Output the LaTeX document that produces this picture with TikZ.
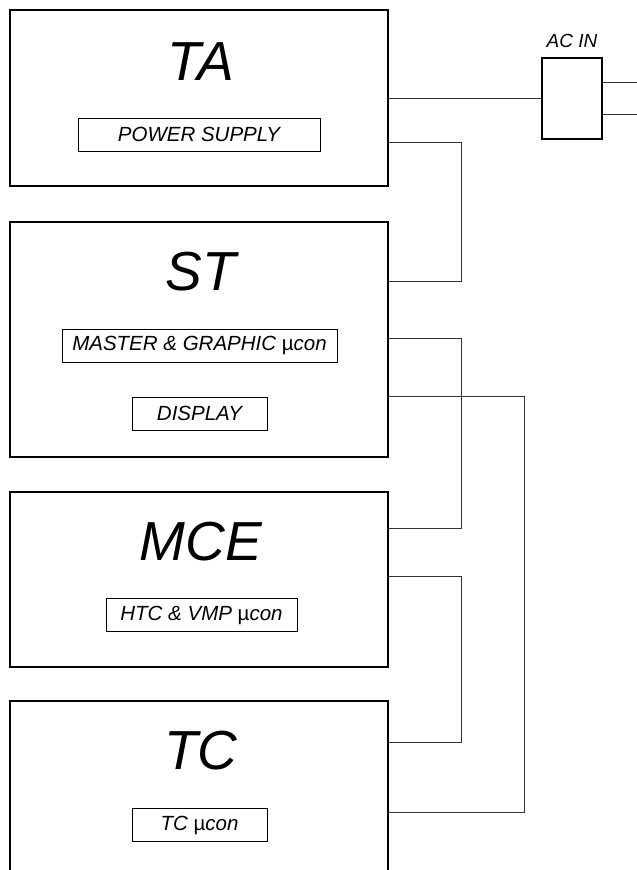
\documentclass[tikz,border=0pt]{standalone}
\usepackage{fontspec}
\setmainfont{Liberation Sans}
\newcommand\titlefont{\fontsize{55}{55}\selectfont\itshape}
\newcommand\labelfont{\fontsize{20.5}{20.5}\selectfont\itshape}
\newcommand\ucon{{\upshape µ}con}
\tikzset{
  block/.style={draw, line width=1.8pt, inner sep=0pt, minimum width=378pt},
  part/.style={draw, line width=0.9pt, inner sep=0pt, minimum height=33pt, font=\labelfont},
  title/.style={anchor=base, font=\titlefont},
  wire/.style={draw=black!80, line width=1pt}
}
\begin{document}
\begin{tikzpicture}[x=1pt,y=-1pt]
\useasboundingbox (0,0) rectangle (637,870);
\clip (0,0) rectangle (637,870);
% Boards
\node[block, minimum height=176pt] (ta) at (199,98) {};
\node[block, minimum height=235pt] (st) at (199,339.5) {};
\node[block, minimum height=175pt] (mce) at (199,579.5) {};
\node[block, minimum height=199pt] (tc) at (199,800.5) {};
\node[title] (ta-t) at (201,80) {TA};
\node[title] (st-t) at (201,290) {ST};
\node[title] (mce-t) at (201,560) {MCE};
\node[title] (tc-t) at (201,769) {TC};
% Parts on the boards
\node[part, minimum width=242pt] (ps) at (199,134.5) {POWER SUPPLY};
\node[part, minimum width=275pt] (mg) at (199.5,345.5) {MASTER \& GRAPHIC \ucon};
\node[part, minimum width=135pt] (disp) at (199.5,413.5) {DISPLAY};
\node[part, minimum width=191pt] (htc) at (201.5,615) {HTC \& VMP \ucon};
\node[part, minimum width=135pt] (tcu) at (199.5,825) {TC \ucon};
% Mains input
\node[draw, line width=1.4pt, minimum width=60pt, minimum height=81pt, inner sep=0pt] (ac) at (572,98.5) {};
\node[anchor=base, font=\fontsize{19}{19}\selectfont\itshape] (ac-t) at (572,47) {AC IN};
\draw[wire] (ac.west) -- (ac.west -| ta.east);
\draw[wire] (ac.east |- 0,82) -- (637,82);
\draw[wire] (ac.east |- 0,114) -- (637,114);
% Cables between boards
\draw[wire] (ta.east |- 0,142) -| (461,281) -- (st.east |- 0,281);
\draw[wire] (st.east |- 0,338) -| (461,528) -- (mce.east |- 0,528);
\draw[wire] (st.east |- 0,396) -| (524,812) -- (tc.east |- 0,812);
\draw[wire] (mce.east |- 0,576) -| (461,742) -- (tc.east |- 0,742);
\end{tikzpicture}
\end{document}
